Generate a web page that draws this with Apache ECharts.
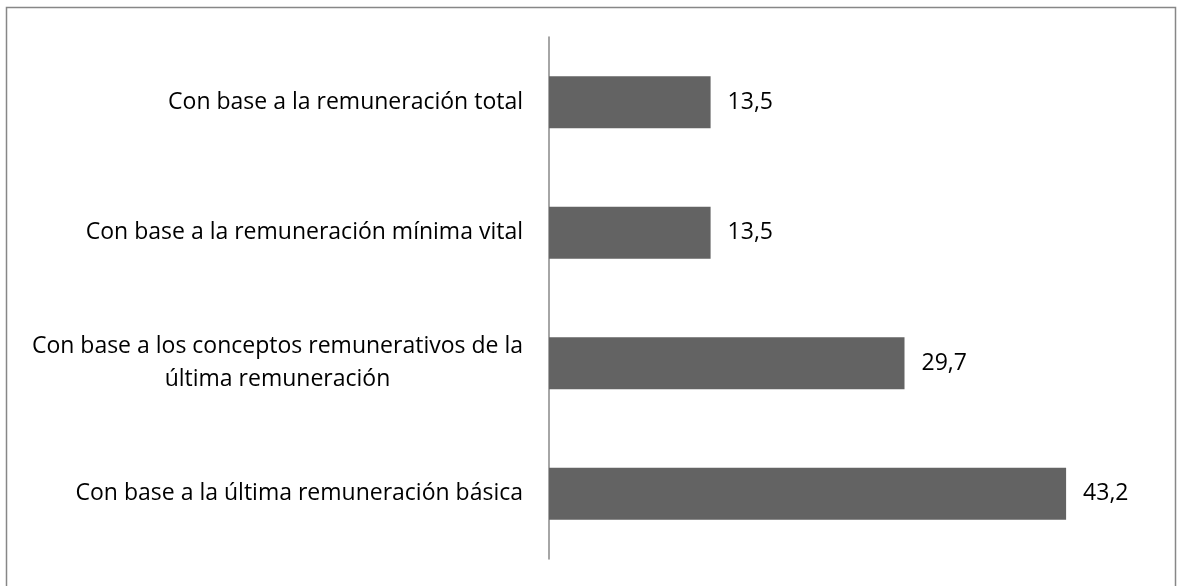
<!DOCTYPE html>
<html>
<head>
<meta charset="utf-8">
<script src="https://cdn.jsdelivr.net/npm/echarts@6/dist/echarts.min.js"></script>
<style>
  html, body { margin: 0; padding: 0; background: #fff; }
  #chart { width: 1177px; height: 586px; }
</style>
</head>
<body>
<div id="chart"></div>
<script>
// categories listed bottom to top (ECharts category y axis grows upward)
const categories = [
  "Con base a la última remuneración básica",
  "Con base a los conceptos remunerativos de la\núltima remuneración",
  "Con base a la remuneración mínima vital",
  "Con base a la remuneración total",
];
const values = [43.2, 29.7, 13.5, 13.5];

const fontFamily = "'Open Sans', 'Noto Sans', sans-serif";
const fontSize = 23;

const chart = echarts.init(document.getElementById("chart"));

chart.setOption({
  backgroundColor: "#fff",
  animation: false,
  graphic: [
    {
      type: "rect",
      shape: { x: 6.5, y: 7.5, width: 1169, height: 600 },
      style: { fill: "none", stroke: "#878787", lineWidth: 1.5 },
      silent: true,
    },
  ],
  grid: { left: 549, top: 37, width: 598.5, height: 522 },
  xAxis: {
    type: "value",
    min: 0,
    max: 50,
    show: false,
  },
  yAxis: {
    type: "category",
    data: categories,
    axisLine: { show: true, lineStyle: { color: "#888888", width: 1.5 } },
    axisTick: { show: false },
    axisLabel: {
      margin: 26,
      color: "#000",
      fontFamily: fontFamily,
      fontSize: fontSize,
      lineHeight: 33,
      formatter: (value) =>
        value
          .split("\n")
          .map((line) => `{c|${line}}`)
          .join("\n"),
      rich: {
        c: {
          align: "center",
          color: "#000",
          fontFamily: fontFamily,
          fontSize: fontSize,
          lineHeight: 33,
        },
      },
    },
  },
  series: [
    {
      type: "bar",
      data: values,
      barWidth: 52,
      itemStyle: { color: "#636363" },
      label: {
        show: true,
        position: "right",
        distance: 17,
        color: "#000",
        fontFamily: fontFamily,
        fontSize: fontSize,
        formatter: (p) => String(p.value).replace(".", ","),
      },
    },
  ],
});
</script>
</body>
</html>
